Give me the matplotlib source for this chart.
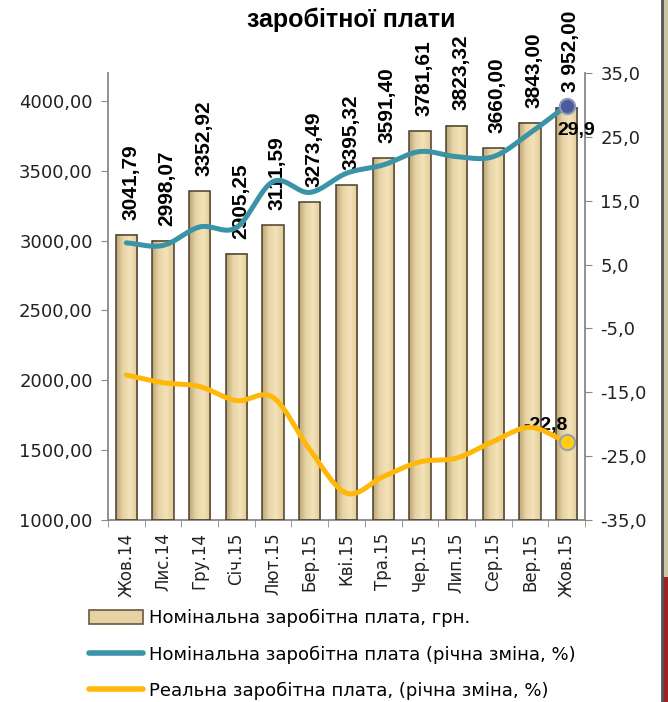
import numpy as np
import matplotlib
matplotlib.use("Agg")
import matplotlib.pyplot as plt
from matplotlib.patches import Patch, Rectangle
from matplotlib.lines import Line2D
from matplotlib.colors import LinearSegmentedColormap

# ---------------- data ----------------
months = ["Жов.14", "Лис.14", "Гру.14", "Січ.15", "Лют.15", "Бер.15", "Кві.15",
          "Тра.15", "Чер.15", "Лип.15", "Сер.15", "Вер.15", "Жов.15"]
nominal_wage = [3041.79, 2998.07, 3352.92, 2905.25, 3111.59, 3273.49, 3395.32,
                3591.40, 3781.61, 3823.32, 3660.00, 3843.00, 3952.00]
wage_labels = ["3041,79", "2998,07", "3352,92", "2905,25", "3111,59", "3273,49", "3395,32",
               "3591,40", "3781,61", "3823,32", "3660,00", "3843,00", "3 952,00"]
nominal_change = [8.4, 8.0, 10.9, 10.8, 18.0, 16.3, 19.3, 20.6, 22.7, 21.9, 21.9, 25.6, 29.9]
real_change = [-12.3, -13.5, -14.1, -16.3, -15.8, -24.0, -30.8, -28.2, -25.9, -25.3, -22.7, -20.5, -22.8]
left_ticks = [1000, 1500, 2000, 2500, 3000, 3500, 4000]
right_ticks = [-35, -25, -15, -5, 5, 15, 25, 35]
legend_labels = ["Номінальна заробітна плата, грн.",
                 "Номінальна заробітна плата (річна зміна, %)",
                 "Реальна заробітна плата, (річна зміна, %)"]
title = "заробітної плати"

BLUE = "#3A93A6"
YELLOW = "#FFB80A"
FONT = "DejaVu Sans"


def catmull_rom(xs, ys, n=24):
    xs = np.asarray(xs, float)
    ys = np.asarray(ys, float)
    px = np.concatenate([[2 * xs[0] - xs[1]], xs, [2 * xs[-1] - xs[-2]]])
    py = np.concatenate([[2 * ys[0] - ys[1]], ys, [2 * ys[-1] - ys[-2]]])
    outx, outy = [], []
    t = np.linspace(0, 1, n, endpoint=False)
    for i in range(1, len(px) - 2):
        for arr, out in ((px, outx), (py, outy)):
            p0, p1, p2, p3 = arr[i - 1], arr[i], arr[i + 1], arr[i + 2]
            out.extend(0.5 * ((2 * p1) + (-p0 + p2) * t + (2 * p0 - 5 * p1 + 4 * p2 - p3) * t ** 2
                              + (-p0 + 3 * p1 - 3 * p2 + p3) * t ** 3))
    outx.append(xs[-1])
    outy.append(ys[-1])
    return np.array(outx), np.array(outy)


fig = plt.figure(figsize=(6.68, 7.02), dpi=100)
W, H = 668, 702
ax1 = fig.add_axes([108 / W, 1 - 520 / H, (585 - 108) / W, (520 - 73) / H])
ax2 = ax1.twinx()

x = np.arange(len(months))
bw = 0.58
ymin, ymax = 1000, 4200

# gradient bars
cmap = LinearSegmentedColormap.from_list(
    "bar", [(0.0, "#BCA577"), (0.3, "#E6D2A4"), (0.65, "#F4E3B9"), (1.0, "#E0CA96")])
grad = np.linspace(0, 1, 64).reshape(1, -1)
for xi, v in zip(x, nominal_wage):
    ax1.imshow(grad, cmap=cmap, aspect="auto", extent=[xi - bw / 2, xi + bw / 2, ymin, v],
               zorder=2, interpolation="bilinear")
bars = ax1.bar(x, np.array(nominal_wage) - ymin, bottom=ymin, width=bw, facecolor="none",
               edgecolor="#4A3F2C", linewidth=1.1, zorder=3)

ax1.set_xlim(-0.5, len(months) - 0.5)
ax1.set_ylim(ymin, ymax)
ax1.set_yticks(left_ticks)
ax1.set_yticklabels([f"{t},00" for t in left_ticks], fontsize=13, family=FONT, color="#222")

for xi, v, lab in zip(x, nominal_wage, wage_labels):
    ax1.annotate(lab, (xi, v), xytext=(3, 11), textcoords="offset points",
                 rotation=90, ha="center", va="bottom",
                 fontsize=15, fontweight="bold", family="Liberation Sans", color="black",
                 zorder=6, annotation_clip=False)

ax1.set_xticks(x)
ax1.set_xticklabels(months, rotation=90, fontsize=12, family=FONT, color="#222")
ax1.set_xticks(np.arange(-0.5, len(months), 1), minor=True)
ax1.tick_params(axis="x", which="major", length=0, pad=9)
ax1.tick_params(axis="x", which="minor", length=5, color="#888", direction="out")
ax1.tick_params(axis="y", length=5, color="#888", pad=6)

ax1.spines["top"].set_visible(False)
ax2.spines["top"].set_visible(False)
for s in ("left", "bottom"):
    ax1.spines[s].set_color("#888")
    ax1.spines[s].set_linewidth(1.3)
ax2.spines["right"].set_color("#888")
ax2.spines["right"].set_linewidth(1.3)
ax2.spines["left"].set_visible(False)
ax2.spines["bottom"].set_visible(False)
ax1.spines["right"].set_visible(False)

# lines
bx, by = catmull_rom(x, nominal_change)
rx, ry = catmull_rom(x, real_change)
ax2.plot(bx, by, color=BLUE, lw=3.6, solid_capstyle="round", zorder=4)
ax2.plot(rx, ry, color=YELLOW, lw=3.6, solid_capstyle="round", zorder=4)
ax2.plot(x[-1], nominal_change[-1], "o", ms=11, mfc="#4A5C9E", mec="#8E9AB8", mew=1.5, zorder=5)
ax2.plot(x[-1], real_change[-1], "o", ms=11, mfc="#FFCC10", mec="#9AA0B0", mew=1.5, zorder=5)
ax2.annotate("29,9", (x[-1], nominal_change[-1]), xytext=(7, -18), textcoords="offset points",
             ha="center", va="center", fontsize=14, fontweight="bold", family="Liberation Sans")
ax2.annotate("-22,8", (x[-1], real_change[-1]), xytext=(-15, 12), textcoords="offset points",
             ha="center", va="center", fontsize=14, fontweight="bold", family="Liberation Sans")

ax2.set_ylim(-35, 35)
ax2.set_yticks(right_ticks)
ax2.set_yticklabels([f"{t},0" for t in right_ticks], fontsize=13, family=FONT, color="#222")
ax2.tick_params(axis="y", length=5, color="#888", pad=6)

# title
fig.text(351 / W, 1 - 27 / H, title, ha="center", va="baseline", fontsize=18,
         fontweight="bold", family="Liberation Sans")

# legend
handles = [Patch(facecolor="#E6D2A4", edgecolor="#6A5A3E", linewidth=1.2),
           Line2D([], [], color=BLUE, lw=4, solid_capstyle="round"),
           Line2D([], [], color=YELLOW, lw=4, solid_capstyle="round")]
leg = fig.legend(handles, legend_labels, loc="upper left", bbox_to_anchor=(82 / W, 1 - 602 / H),
                 frameon=False, prop={"family": FONT, "size": 13}, handlelength=3.0,
                 handleheight=0.8, handletextpad=0.3, labelspacing=1.0, borderaxespad=0)

# right-edge decoration
fig.add_artist(Rectangle((663 / W, 0), 5 / W, 1, transform=fig.transFigure,
                         facecolor="#CFC3A6", edgecolor="none"))
fig.add_artist(Rectangle((663 / W, 0), 5 / W, 1 - 577 / H, transform=fig.transFigure,
                         facecolor="#9B2226", edgecolor="none"))
fig.add_artist(Line2D([662 / W, 662 / W], [0, 1], transform=fig.transFigure, color="#555", lw=2))

fig.savefig("out.png", dpi=100)
